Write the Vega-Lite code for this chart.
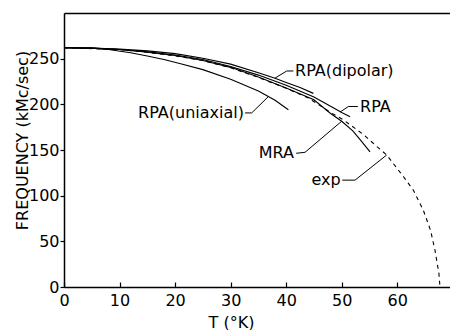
{
  "$schema": "https://vega.github.io/schema/vega-lite/v6.json",
  "width": 386,
  "height": 274,
  "autosize": "none",
  "padding": {"left": 64, "top": 13, "right": 0, "bottom": 43},
  "background": "white",
  "config": {
    "view": {"stroke": null},
    "font": "DejaVu Sans",
    "axis": {
      "grid": false,
      "domainColor": "black",
      "domainWidth": 1.5,
      "tickColor": "black",
      "tickWidth": 1.2,
      "labelColor": "black",
      "labelFont": "DejaVu Sans",
      "labelFontSize": 16,
      "labelFlush": false,
      "titleColor": "black",
      "titleFont": "DejaVu Sans",
      "titleFontSize": 16,
      "titleFontWeight": "normal"
    }
  },
  "datasets": {
    "curves": [
      {"s": "dipolar", "T": 0, "F": 262}, {"s": "dipolar", "T": 5, "F": 261.5}, {"s": "dipolar", "T": 10, "F": 260.5}, {"s": "dipolar", "T": 15, "F": 258.5}, {"s": "dipolar", "T": 20, "F": 255.5}, {"s": "dipolar", "T": 25, "F": 250.5}, {"s": "dipolar", "T": 30, "F": 244}, {"s": "dipolar", "T": 35, "F": 234.5}, {"s": "dipolar", "T": 38, "F": 228.5}, {"s": "dipolar", "T": 40, "F": 224}, {"s": "dipolar", "T": 42.5, "F": 218.5}, {"s": "dipolar", "T": 44.9, "F": 212},
      {"s": "RPA", "T": 0, "F": 262}, {"s": "RPA", "T": 5, "F": 261.5}, {"s": "RPA", "T": 10, "F": 260}, {"s": "RPA", "T": 15, "F": 257.5}, {"s": "RPA", "T": 20, "F": 254}, {"s": "RPA", "T": 25, "F": 249}, {"s": "RPA", "T": 30, "F": 241.5}, {"s": "RPA", "T": 35, "F": 232}, {"s": "RPA", "T": 40, "F": 221}, {"s": "RPA", "T": 45, "F": 208}, {"s": "RPA", "T": 48, "F": 198}, {"s": "RPA", "T": 50, "F": 191}, {"s": "RPA", "T": 51.5, "F": 186.5},
      {"s": "MRA", "T": 0, "F": 262}, {"s": "MRA", "T": 5, "F": 261.5}, {"s": "MRA", "T": 10, "F": 260}, {"s": "MRA", "T": 15, "F": 257}, {"s": "MRA", "T": 20, "F": 253.5}, {"s": "MRA", "T": 25, "F": 248}, {"s": "MRA", "T": 30, "F": 240.5}, {"s": "MRA", "T": 35, "F": 230}, {"s": "MRA", "T": 40, "F": 218}, {"s": "MRA", "T": 45, "F": 205}, {"s": "MRA", "T": 48, "F": 190}, {"s": "MRA", "T": 50, "F": 181.5}, {"s": "MRA", "T": 52, "F": 171}, {"s": "MRA", "T": 53.5, "F": 160}, {"s": "MRA", "T": 55.1, "F": 148},
      {"s": "uniaxial", "T": 0, "F": 262}, {"s": "uniaxial", "T": 5, "F": 261.5}, {"s": "uniaxial", "T": 8, "F": 260}, {"s": "uniaxial", "T": 12, "F": 256.5}, {"s": "uniaxial", "T": 15, "F": 253}, {"s": "uniaxial", "T": 18, "F": 249}, {"s": "uniaxial", "T": 21, "F": 244.5}, {"s": "uniaxial", "T": 25, "F": 238}, {"s": "uniaxial", "T": 30, "F": 227.5}, {"s": "uniaxial", "T": 35, "F": 214.5}, {"s": "uniaxial", "T": 38, "F": 204.5}, {"s": "uniaxial", "T": 40.4, "F": 194}
    ],
    "exp": [
      {"T": 0, "F": 262}, {"T": 10, "F": 260}, {"T": 15, "F": 257}, {"T": 20, "F": 253}, {"T": 25, "F": 248}, {"T": 30, "F": 240}, {"T": 35, "F": 229.5}, {"T": 40, "F": 217.5}, {"T": 44, "F": 207}, {"T": 48, "F": 191}, {"T": 50.3, "F": 183}, {"T": 53.9, "F": 167}, {"T": 56.3, "F": 154}, {"T": 58.1, "F": 144.5}, {"T": 61.1, "F": 121}, {"T": 62.9, "F": 106}, {"T": 64.7, "F": 84}, {"T": 66, "F": 62}, {"T": 66.8, "F": 40}, {"T": 67.5, "F": 15}, {"T": 67.7, "F": 0}
    ],
    "leaders": [
      {"id": "dip", "k": 1, "T": 41.3, "F": 236.5}, {"id": "dip", "k": 2, "T": 40.1, "F": 236.5}, {"id": "dip", "k": 3, "T": 38, "F": 228.7},
      {"id": "rpa", "k": 1, "T": 52.9, "F": 197.6}, {"id": "rpa", "k": 2, "T": 51.2, "F": 197.6}, {"id": "rpa", "k": 3, "T": 49.7, "F": 191.5},
      {"id": "mra", "k": 1, "T": 41.8, "F": 146.4}, {"id": "mra", "k": 2, "T": 43.4, "F": 147.5}, {"id": "mra", "k": 3, "T": 50, "F": 181.5},
      {"id": "exp", "k": 1, "T": 50.1, "F": 117}, {"id": "exp", "k": 2, "T": 52.4, "F": 117}, {"id": "exp", "k": 3, "T": 58.1, "F": 144.5},
      {"id": "uni", "k": 1, "T": 32.6, "F": 190.6}, {"id": "uni", "k": 2, "T": 33.8, "F": 190.6}, {"id": "uni", "k": 3, "T": 36.8, "F": 208.5}
    ],
    "labelsLeft": [
      {"text": "RPA(dipolar)", "T": 41.6, "F": 236.5},
      {"text": "RPA", "T": 53.3, "F": 197.6}
    ],
    "labelsRight": [
      {"text": "MRA", "T": 41.4, "F": 146.4},
      {"text": "exp", "T": 49.8, "F": 117},
      {"text": "RPA(uniaxial)", "T": 32.4, "F": 190.6}
    ]
  },
  "layer": [
    {
      "data": {"name": "curves"},
      "mark": {"type": "line", "color": "black", "strokeWidth": 1.1},
      "encoding": {
        "x": {"field": "T", "type": "quantitative", "scale": {"domain": [0, 69.5], "nice": false},
          "axis": {"orient": "bottom", "values": [0, 10, 20, 30, 40, 50, 60], "tickSize": -5, "labelPadding": 10, "title": "T (°K)", "titleX": 167, "titleY": 40, "titleBaseline": "alphabetic"}},
        "y": {"field": "F", "type": "quantitative", "scale": {"domain": [0, 300], "nice": false},
          "axis": {"orient": "left", "values": [0, 50, 100, 150, 200, 250], "tickSize": 4, "labelPadding": 1, "title": "FREQUENCY (kMc/sec)", "titleAngle": -90, "titleX": -37, "titleY": 127, "titleAlign": "center", "titleBaseline": "alphabetic"}},
        "detail": {"field": "s"},
        "order": {"field": "T"}
      }
    },
    {
      "data": {"name": "exp"},
      "mark": {"type": "line", "color": "black", "strokeWidth": 1.1, "strokeDash": [4, 4]},
      "encoding": {
        "x": {"field": "T", "type": "quantitative", "axis": {"orient": "top", "labels": false, "ticks": false, "title": null}},
        "y": {"field": "F", "type": "quantitative"},
        "order": {"field": "T"}
      }
    },
    {
      "data": {"name": "leaders"},
      "mark": {"type": "line", "color": "black", "strokeWidth": 1},
      "encoding": {
        "x": {"field": "T", "type": "quantitative", "axis": null},
        "y": {"field": "F", "type": "quantitative"},
        "detail": {"field": "id"},
        "order": {"field": "k"}
      }
    },
    {
      "data": {"name": "labelsLeft"},
      "mark": {"type": "text", "align": "left", "baseline": "middle", "font": "DejaVu Sans", "fontSize": 16, "color": "black"},
      "encoding": {
        "x": {"field": "T", "type": "quantitative", "axis": null},
        "y": {"field": "F", "type": "quantitative"},
        "text": {"field": "text"}
      }
    },
    {
      "data": {"name": "labelsRight"},
      "mark": {"type": "text", "align": "right", "baseline": "middle", "font": "DejaVu Sans", "fontSize": 16, "color": "black"},
      "encoding": {
        "x": {"field": "T", "type": "quantitative", "axis": null},
        "y": {"field": "F", "type": "quantitative"},
        "text": {"field": "text"}
      }
    }
  ],
  "resolve": {"axis": {"x": "independent", "y": "shared"}}
}
